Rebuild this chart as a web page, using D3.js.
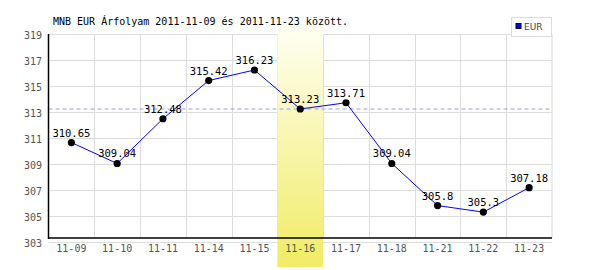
<!DOCTYPE html>
<html>
<head>
<meta charset="utf-8">
<script src="https://cdn.jsdelivr.net/npm/d3@7"></script>
<style>
  body { margin: 0; background: #fff; }
  svg text { font-family: "DejaVu Sans Mono", monospace; }
</style>
</head>
<body>
<svg width="600" height="270"></svg>
<script>
var dates = ["11-09", "11-10", "11-11", "11-14", "11-15", "11-16", "11-17", "11-18", "11-21", "11-22", "11-23"];
var rates = [310.65, 309.04, 312.48, 315.42, 316.23, 313.23, 313.71, 309.04, 305.8, 305.3, 307.18];
var yTicks = [303, 305, 307, 309, 311, 313, 315, 317, 319];
var highlight = "11-16";
var title = "MNB EUR Árfolyam 2011-11-09 és 2011-11-23 között.";

var plotL = 48.5, plotR = 552, plotT = 34, plotB = 242, axisY = 238;

var svg = d3.select("svg");

var x = d3.scaleBand().domain(dates).range([plotL, plotR]);
var y = d3.scaleLinear().domain([303, 319]).range([plotB, plotT]);

// horizontal grid
svg.selectAll("line.hgrid")
    .data(yTicks)
    .enter().append("line")
    .attr("class", "hgrid")
    .attr("x1", plotL).attr("x2", plotR)
    .attr("y1", function (d) { return Math.round(y(d)) + 0.5; })
    .attr("y2", function (d) { return Math.round(y(d)) + 0.5; })
    .attr("stroke", "#dddddd");

// vertical grid at band edges
svg.selectAll("line.vgrid")
    .data(dates.slice(1).concat(["end"]))
    .enter().append("line")
    .attr("class", "vgrid")
    .attr("x1", function (d) { return d == "end" ? plotR : Math.round(x(d)) + 0.5; })
    .attr("x2", function (d) { return d == "end" ? plotR : Math.round(x(d)) + 0.5; })
    .attr("y1", plotT).attr("y2", axisY)
    .attr("stroke", "#dddddd");

// yellow highlight column (covers the grid)
var grad = svg.append("defs").append("linearGradient")
    .attr("id", "hl").attr("x1", 0).attr("y1", 0).attr("x2", 0).attr("y2", 1);
grad.append("stop").attr("offset", "0%").attr("stop-color", "#fffff4");
grad.append("stop").attr("offset", "100%").attr("stop-color", "#f0ec64");

svg.append("rect")
    .attr("x", x(highlight))
    .attr("y", 24)
    .attr("width", x.bandwidth())
    .attr("height", 267 - 24)
    .attr("fill", "url(#hl)");

// reference level of the highlighted day
var hv = rates[dates.indexOf(highlight)];
svg.append("line")
    .attr("x1", plotL).attr("x2", plotR)
    .attr("y1", y(hv)).attr("y2", y(hv))
    .attr("stroke", "#9a9aee")
    .attr("stroke-dasharray", "4,3");

// axes
svg.append("line")
    .attr("x1", plotL).attr("x2", plotL)
    .attr("y1", plotT).attr("y2", axisY + 1)
    .attr("stroke", "#000").attr("stroke-width", 1.5);
svg.append("line")
    .attr("x1", plotL).attr("x2", plotR)
    .attr("y1", axisY).attr("y2", axisY)
    .attr("stroke", "#000").attr("stroke-width", 1.5);

svg.selectAll("text.ylab")
    .data(yTicks)
    .enter().append("text")
    .attr("class", "ylab")
    .attr("x", 42)
    .attr("y", function (d) { return y(d) + 4.5; })
    .attr("text-anchor", "end")
    .attr("font-size", 10)
    .attr("fill", "#555")
    .text(function (d) { return d; });

svg.selectAll("text.xlab")
    .data(dates)
    .enter().append("text")
    .attr("class", "xlab")
    .attr("x", function (d) { return x(d) + x.bandwidth() / 2; })
    .attr("y", 252)
    .attr("text-anchor", "middle")
    .attr("font-size", 10)
    .attr("fill", "#555")
    .text(function (d) { return d; });

// line + markers
var line = d3.line()
    .x(function (d, i) { return x(dates[i]) + x.bandwidth() / 2; })
    .y(function (d) { return y(d); });

svg.append("path")
    .datum(rates)
    .attr("d", line)
    .attr("fill", "none")
    .attr("stroke", "#0000ff")
    .attr("stroke-width", 1);

svg.selectAll("circle")
    .data(rates)
    .enter().append("circle")
    .attr("cx", function (d, i) { return x(dates[i]) + x.bandwidth() / 2; })
    .attr("cy", function (d) { return y(d); })
    .attr("r", 3.6)
    .attr("fill", "#000");

svg.selectAll("text.val")
    .data(rates)
    .enter().append("text")
    .attr("class", "val")
    .attr("x", function (d, i) { return x(dates[i]) + x.bandwidth() / 2; })
    .attr("y", function (d) { return y(d) - 6; })
    .attr("text-anchor", "middle")
    .attr("font-size", 10.5)
    .attr("fill", "#000")
    .text(function (d) { return d; });

// title
svg.append("text")
    .attr("x", 53)
    .attr("y", 25)
    .attr("font-size", 10)
    .attr("fill", "#000")
    .text(title);

// legend
svg.append("rect")
    .attr("x", 511.5).attr("y", 17.5)
    .attr("width", 40).attr("height", 19)
    .attr("fill", "#fff").attr("stroke", "#dddddd");
svg.append("rect")
    .attr("x", 516).attr("y", 23.5)
    .attr("width", 5).attr("height", 5)
    .attr("fill", "#0000ff").attr("stroke", "#000033");
svg.append("text")
    .attr("x", 524).attr("y", 30)
    .attr("font-size", 9)
    .attr("fill", "#444")
    .style("font-family", "'DejaVu Sans', sans-serif")
    .text("EUR");
</script>
</body>
</html>
